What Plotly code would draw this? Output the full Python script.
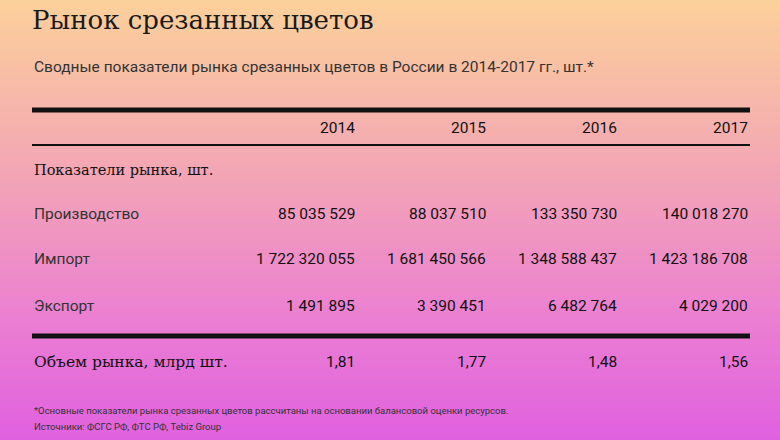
import plotly.graph_objects as go

years = ["2014", "2015", "2016", "2017"]
row_labels = ["Производство", "Импорт", "Экспорт"]
production = ["85 035 529", "88 037 510", "133 350 730", "140 018 270"]
imports = ["1 722 320 055", "1 681 450 566", "1 348 588 437", "1 423 186 708"]
exports = ["1 491 895", "3 390 451", "6 482 764", "4 029 200"]
market_volume = ["1,81", "1,77", "1,48", "1,56"]

W, H = 780, 440
fig = go.Figure()
shapes = []
stops = [(0, (252, 208, 154)), (0.35, (244, 170, 178)), (0.7, (236, 130, 208)), (1, (224, 96, 224))]
def col(t):
    for (a, c1), (b, c2) in zip(stops, stops[1:]):
        if t <= b:
            f = (t - a) / (b - a)
            return "rgb(%d,%d,%d)" % tuple(round(c1[i] + (c2[i] - c1[i]) * f) for i in range(3))
    return "rgb(224,96,224)"
n = 110
for i in range(n):
    shapes.append(dict(type="rect", xref="x", yref="y", x0=0, x1=W, y0=i * H / n, y1=(i + 1) * H / n + 0.6,
                       fillcolor=col((i + 0.5) / n), line=dict(width=0), layer="below"))
L, R = 32, 750
for y, w in [(110, 5), (145, 2), (336, 5)]:
    shapes.append(dict(type="line", xref="x", yref="y", x0=L, x1=R, y0=y, y1=y, line=dict(color="#111", width=w)))

ann = []
def t(x, y, s, size, fam="Roboto", anchor="left", color="#222"):
    ann.append(dict(x=x, y=y, xref="x", yref="y", text=s, showarrow=False, xanchor=anchor, yanchor="middle",
                    font=dict(family=fam, size=size, color=color)))
serif = "DejaVu Serif"
t(L - 2, 20, "Рынок срезанных цветов", 26, serif, color="#1a1a1a")
t(L, 67, "Сводные показатели рынка срезанных цветов в России в 2014-2017 гг., шт.*", 15.5, color="#333")
xs = [357, 488, 619, 750]
for x, yv in zip(xs, years):
    t(x, 128, yv, 15.5, anchor="right", color="#111")
t(L, 170, "Показатели рынка, шт.", 14.5, serif, color="#111")
for y, lab, vals in zip([214, 259, 306], row_labels, [production, imports, exports]):
    t(L, y, lab, 15.5, color="#333")
    for x, v in zip(xs, vals):
        t(x, y, v, 15.5, anchor="right", color="#111")
t(L, 362, "Объем рынка, млрд шт.", 15.5, serif, color="#111")
for x, v in zip(xs, market_volume):
    t(x, 362, v, 15.5, anchor="right", color="#111")
t(L, 410, "*Основные показатели рынка срезанных цветов рассчитаны на основании балансовой оценки ресурсов.", 9.5, color="#333")
t(L, 426, "Источники: ФСГС РФ, ФТС РФ, Tebiz Group", 9.5, color="#333")

fig.update_layout(width=W, height=H, margin=dict(l=0, r=0, t=0, b=0), shapes=shapes, annotations=ann,
                  xaxis=dict(range=[0, W], visible=False, fixedrange=True),
                  yaxis=dict(range=[H, 0], visible=False, fixedrange=True),
                  plot_bgcolor="#f4aab2", paper_bgcolor="#f4aab2", showlegend=False)
fig.write_html("out.html", config={"displayModeBar": False},
               post_script="document.body.style.margin='0';document.body.style.overflow='hidden';")
